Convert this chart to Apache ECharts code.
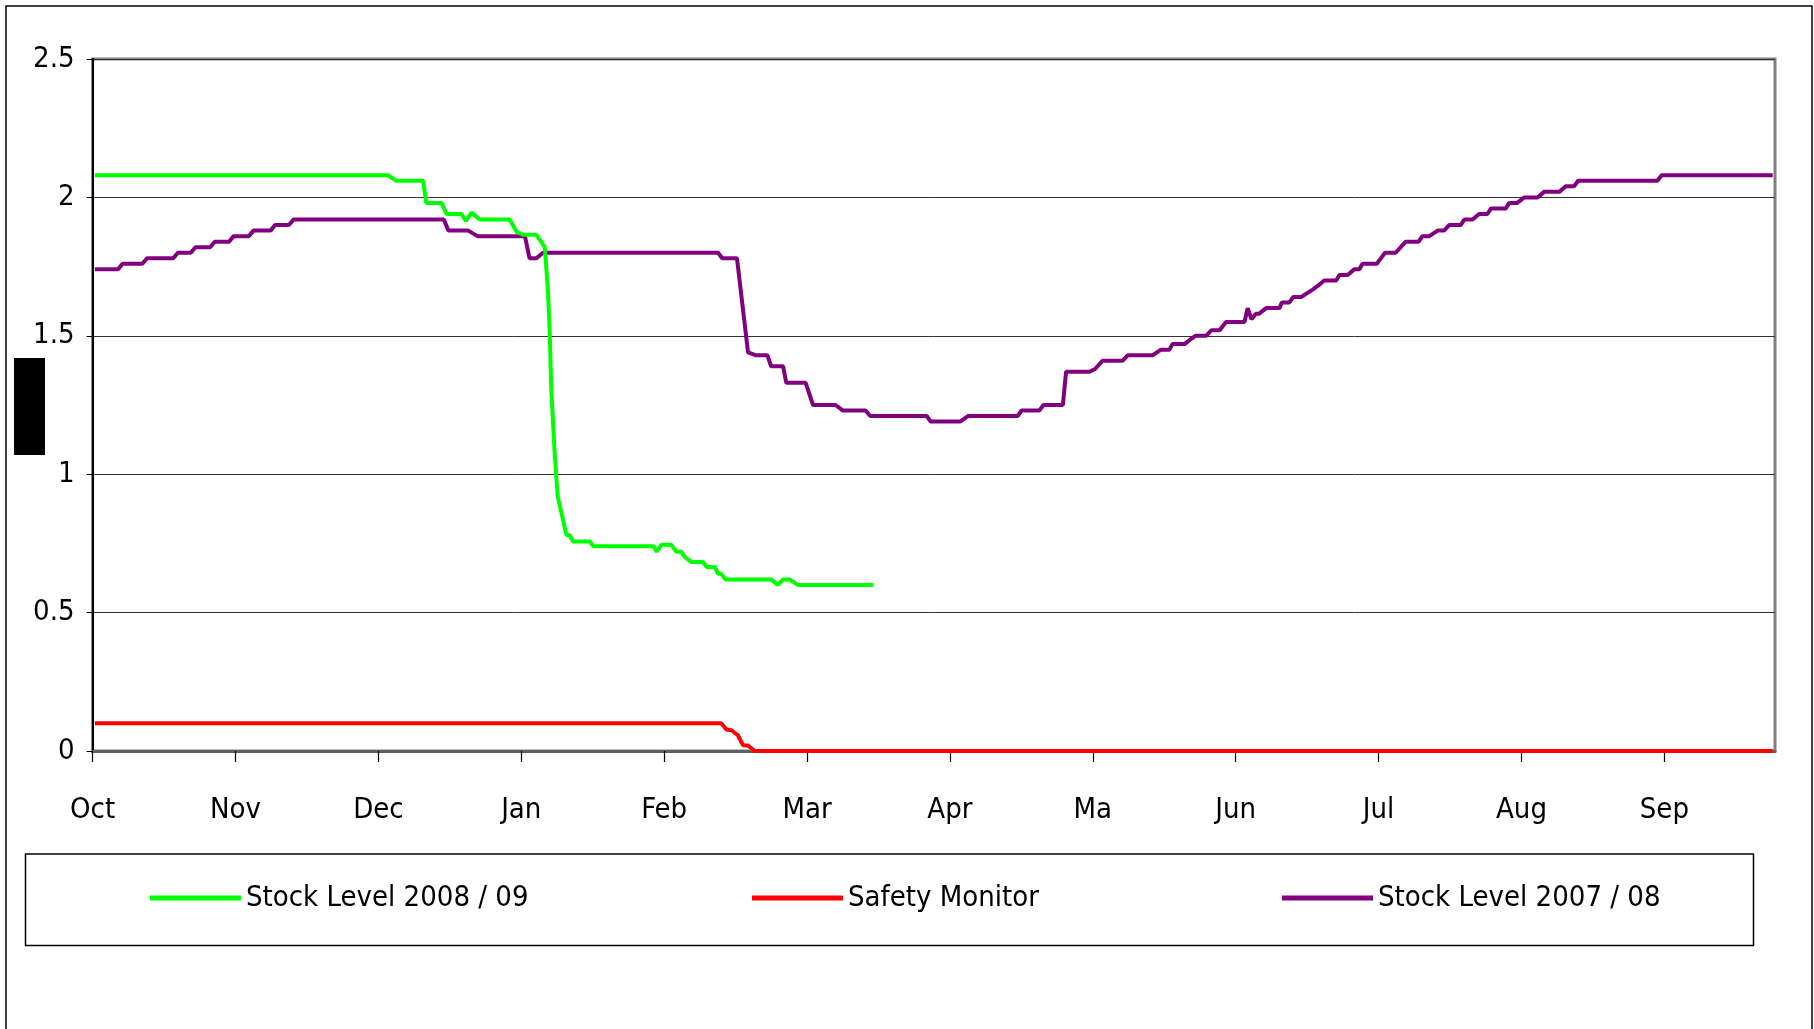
<!DOCTYPE html>
<html>
<head>
<meta charset="utf-8">
<script src="https://cdn.jsdelivr.net/npm/echarts@6/dist/echarts.min.js"></script>
<style>
html,body{margin:0;padding:0;background:#fff;}
#chart{width:1814px;height:1029px;}
</style>
</head>
<body>
<div id="chart"></div>
<script>
// Month tick labels (one every 31 days)
const monthLabels = ['Oct','Nov','Dec','Jan','Feb','Mar','Apr','Ma','Jun','Jul','Aug','Sep'];
const yTicks = [0, 0.5, 1, 1.5, 2, 2.5];
const seriesNames = ['Stock Level 2008 / 09', 'Safety Monitor', 'Stock Level 2007 / 08'];

// Stock Level 2008 / 09 (day index, value)
const green08Days = [0.5,64.1,65.9,71.7,72.4,75.7,76.8,80,81,82.2,84,90.5,92,93.4,96.3,98.1,98.8,99.2,99.5,100.2,100.9,102.8,103.5,104.2,107.9,108.6,121.7,122.4,123.4,125.6,126.6,127.7,128.5,129.9,132.4,133.2,135,135.7,136.4,137.3,147.2,148.7,149.8,151.2,153,169.4];
const green08Vals = [2.08,2.08,2.06,2.06,1.98,1.98,1.94,1.94,1.915,1.945,1.92,1.92,1.875,1.865,1.865,1.82,1.66,1.5,1.31,1.09,0.92,0.78,0.78,0.757,0.757,0.74,0.74,0.72,0.745,0.745,0.72,0.72,0.70,0.683,0.683,0.665,0.665,0.64,0.64,0.62,0.62,0.60,0.62,0.62,0.60,0.60];

// Safety Monitor
const safetyDays = [0.5,136.4,137.5,138.6,140,141.1,142.2,143.6,364.5];
const safetyVals = [0.1,0.1,0.078,0.075,0.057,0.021,0.02,0,0];

// Stock Level 2007 / 08
const purple07Days = [0.5,5.5,6.5,10.8,11.8,17.5,18.5,21.3,22.3,25.5,26.5,29.6,30.6,33.9,34.9,38.6,39.6,42.6,43.6,76.2,77.2,81.5,83.5,93.8,94.8,96.3,97.7,135.7,136.6,139.8,142.2,143.8,146.4,147.2,149.8,150.5,154.7,156.3,161.2,162.8,167.7,168.7,181,181.8,188.2,189.9,200.7,201.5,205.4,206.3,210.5,211.2,216.3,217.5,219.1,223.5,224.6,230,231.8,233.6,234.3,236.9,238,239.3,241.6,242.7,244.5,245.9,249.9,250.6,251.4,252.4,253.1,254.6,257.5,258,259.6,260.5,262.2,263.6,264.7,265.8,267.2,269.8,270.5,272.3,273.7,274.8,275.5,278.6,280.4,282.7,283.8,284.9,287.7,288.5,290,291.8,293.2,294.3,296.8,297.6,299.4,300.8,302.6,303.4,306.6,307.3,309.1,310.6,313.5,314.9,318.2,319.6,321.4,322.3,339.5,340.4,364.5];
const purple07Vals = [1.74,1.74,1.76,1.76,1.78,1.78,1.80,1.80,1.82,1.82,1.84,1.84,1.86,1.86,1.88,1.88,1.90,1.90,1.92,1.92,1.88,1.88,1.86,1.86,1.78,1.78,1.80,1.80,1.78,1.78,1.44,1.43,1.43,1.39,1.39,1.33,1.33,1.25,1.25,1.23,1.23,1.21,1.21,1.19,1.19,1.21,1.21,1.23,1.23,1.25,1.25,1.37,1.37,1.38,1.41,1.41,1.43,1.43,1.45,1.45,1.47,1.47,1.485,1.50,1.50,1.52,1.52,1.55,1.55,1.60,1.56,1.58,1.58,1.60,1.60,1.62,1.62,1.64,1.64,1.655,1.667,1.68,1.70,1.70,1.72,1.72,1.74,1.74,1.76,1.76,1.80,1.80,1.82,1.84,1.84,1.86,1.86,1.88,1.88,1.90,1.90,1.92,1.92,1.94,1.94,1.96,1.96,1.98,1.98,2.0,2.0,2.02,2.02,2.04,2.04,2.06,2.06,2.08,2.08];

const zip = (a, b) => a.map((d, i) => [d, b[i]]);
const FONT = "'Liberation Sans Narrow','Arial Narrow','DejaVu Sans Condensed',sans-serif";
const FS = 29;

const chart = echarts.init(document.getElementById('chart'), null, {renderer: 'canvas'});

function legendFor(name, left) {
  return {
    data: [name], left: left, top: 878, orient: 'horizontal', padding: 0,
    icon: 'rect', itemWidth: 91, itemHeight: 5, itemGap: 0,
    textStyle: {fontFamily: FONT, fontSize: FS, color: '#000', lineHeight: 40},
    selectedMode: false
  };
}

chart.setOption({
  animation: false,
  backgroundColor: '#fff',
  graphic: [
    {type: 'rect', silent: true, shape: {x: 6, y: 6, width: 1806, height: 1100}, style: {fill: 'none', stroke: '#000', lineWidth: 1.5}},
    {type: 'rect', silent: true, shape: {x: 25.5, y: 854, width: 1728, height: 91.5}, style: {fill: 'none', stroke: '#000', lineWidth: 1.5}},
    {type: 'rect', silent: true, shape: {x: 14, y: 358, width: 31, height: 97}, style: {fill: '#000'}}
  ],
  grid: {left: 92.6, top: 59, right: 39, bottom: 278, show: true, borderColor: '#808080', borderWidth: 3, containLabel: false},
  legend: [legendFor(seriesNames[0], 150), legendFor(seriesNames[1], 752), legendFor(seriesNames[2], 1282)],
  xAxis: {
    type: 'value', min: 0, max: 365, interval: 31,
    axisLine: {show: true, lineStyle: {color: '#606060', width: 3}},
    axisTick: {show: true, length: 11, lineStyle: {color: '#000', width: 1.2}},
    splitLine: {show: false},
    axisLabel: {
      margin: 45, fontFamily: FONT, fontSize: FS, color: '#000',
      showMaxLabel: false,
      formatter: v => { const i = Math.round(v / 31); return (Math.abs(v - i * 31) < 0.01 && monthLabels[i]) ? monthLabels[i] : ''; }
    }
  },
  yAxis: {
    type: 'value', min: yTicks[0], max: yTicks[yTicks.length - 1], interval: 0.5,
    axisLine: {show: true, lineStyle: {color: '#000', width: 2}},
    axisTick: {show: true, length: 6, lineStyle: {color: '#000', width: 1}},
    splitLine: {show: true, lineStyle: {color: '#333', width: 1}},
    axisLabel: {margin: 18, fontFamily: FONT, fontSize: FS, color: '#000'}
  },
  series: [
    {name: seriesNames[0], type: 'line', data: zip(green08Days, green08Vals), showSymbol: false, symbol: 'none',
      color: '#00FF00', lineStyle: {color: '#00FF00', width: 4}, z: 4},
    {name: seriesNames[1], type: 'line', data: zip(safetyDays, safetyVals), showSymbol: false, symbol: 'none',
      color: '#FF0000', lineStyle: {color: '#FF0000', width: 4}, z: 3, clip: false},
    {name: seriesNames[2], type: 'line', data: zip(purple07Days, purple07Vals), showSymbol: false, symbol: 'none',
      color: '#800080', lineStyle: {color: '#800080', width: 4}, z: 3}
  ]
});
</script>
</body>
</html>
